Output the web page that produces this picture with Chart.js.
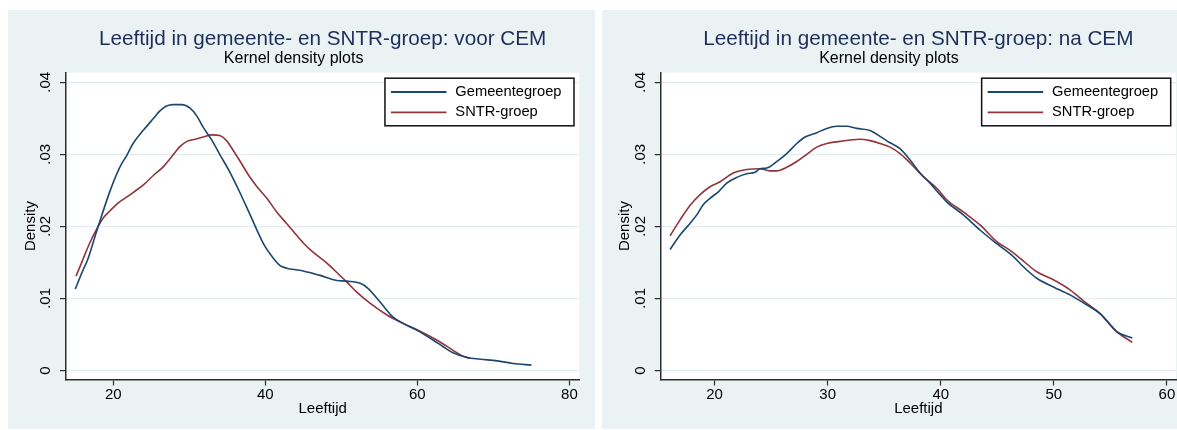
<!DOCTYPE html>
<html>
<head>
<meta charset="utf-8">
<script src="https://cdn.jsdelivr.net/npm/chart.js@4.4.1/dist/chart.umd.min.js"></script>
<style>
  html, body { margin: 0; padding: 0; background: #ffffff; width: 1177px; height: 430px; overflow: hidden; }
  canvas { position: absolute; display: block; }
  #voor { left: 8px; top: 10px; }
  #na { left: 602px; top: 10px; }
</style>
</head>
<body>
<canvas id="voor" width="587" height="419"></canvas>
<canvas id="na" width="588" height="419"></canvas>
<script>
// ---------- text ----------
const TITLE_VOOR = 'Leeftijd in gemeente- en SNTR-groep: voor CEM';
const TITLE_NA = 'Leeftijd in gemeente- en SNTR-groep: na CEM';
const SUBTITLE = 'Kernel density plots';
const SERIES = ['Gemeentegroep', 'SNTR-groep'];
const X_TITLE = 'Leeftijd';
const Y_TITLE = 'Density';

// ---------- tick values / labels ----------
const Y_TICKS = [0, 0.01, 0.02, 0.03, 0.04];
const Y_TICK_LABELS = ['0', '.01', '.02', '.03', '.04'];
const X_TICKS_VOOR = [20, 40, 60, 80];
const X_TICKS_NA = [20, 30, 40, 50, 60];

// ---------- data: voor CEM ----------
const voorAgeGemeente = [15.0, 16.0, 16.6, 17.8, 19.6, 20.9, 21.8, 22.6, 24.0, 25.3, 26.1, 27.0, 27.9, 29.0, 30.1, 31.0, 31.8, 33.0, 34.0, 35.4, 36.7, 38.0, 39.8, 40.9, 41.9, 42.8, 44.5, 46.5, 47.2, 49.4, 50.7, 52.5, 53.5, 55.1, 56.8, 58.2, 59.9, 62.1, 63.4, 64.7, 66.5, 68.3, 70.5, 72.6, 75.0];
const voorDensGemeente = [0.0113, 0.0139, 0.0153, 0.0193, 0.0250, 0.0283, 0.0299, 0.0315, 0.0334, 0.0350, 0.0360, 0.0367, 0.0369, 0.0369, 0.0364, 0.0353, 0.0338, 0.0319, 0.0300, 0.0274, 0.0246, 0.0216, 0.0175, 0.0158, 0.0146, 0.0142, 0.0139, 0.0134, 0.0132, 0.0125, 0.0124, 0.0121, 0.0114, 0.0095, 0.0074, 0.0065, 0.0056, 0.0042, 0.0033, 0.00245, 0.0018, 0.00157, 0.00134, 0.00097, 0.00074];
const voorAgeSntr = [15.1, 16.0, 16.9, 17.8, 18.7, 19.6, 20.7, 21.8, 22.6, 24.0, 25.3, 26.6, 27.7, 28.8, 29.7, 30.8, 31.8, 33.0, 34.0, 34.9, 35.8, 36.7, 37.8, 38.9, 40.2, 41.5, 42.8, 43.7, 45.0, 46.2, 48.1, 49.8, 50.7, 52.0, 53.8, 56.0, 58.2, 59.9, 62.6, 64.7, 65.8, 66.9];
const voorDensSntr = [0.0131, 0.0154, 0.0177, 0.0196, 0.0212, 0.0222, 0.0233, 0.0241, 0.0247, 0.0258, 0.0271, 0.0283, 0.0297, 0.0311, 0.0318, 0.0321, 0.0324, 0.0327, 0.0326, 0.0319, 0.0305, 0.0290, 0.0271, 0.0255, 0.0239, 0.0220, 0.0204, 0.0193, 0.0177, 0.0165, 0.0149, 0.0132, 0.0123, 0.0109, 0.0093, 0.0077, 0.0065, 0.0057, 0.0042, 0.0028, 0.0021, 0.0017];

// ---------- data: na CEM ----------
const naAgeGemeente = [16.07, 16.95, 17.83, 18.43, 19.0, 19.6, 20.34, 21.08, 21.96, 22.85, 23.58, 24.02, 24.62, 25.5, 26.38, 27.27, 28.0, 29.04, 29.92, 30.8, 31.69, 32.57, 33.75, 34.63, 35.52, 36.4, 37.29, 38.17, 39.05, 40.53, 42.0, 43.47, 44.95, 46.42, 47.3, 48.49, 49.96, 51.43, 52.91, 54.09, 55.56, 56.94];
const naDensGemeente = [0.0168, 0.0188, 0.0204, 0.0216, 0.0230, 0.0239, 0.0248, 0.0260, 0.0268, 0.0273, 0.0275, 0.0280, 0.0281, 0.0290, 0.0301, 0.0315, 0.0324, 0.0330, 0.0336, 0.0339, 0.0339, 0.0336, 0.0333, 0.0325, 0.0316, 0.0308, 0.0292, 0.0274, 0.0260, 0.0234, 0.0216, 0.0195, 0.0176, 0.0158, 0.0144, 0.0128, 0.0116, 0.0105, 0.0091, 0.0079, 0.0054, 0.0045];
const naAgeSntr = [16.07, 16.95, 17.83, 18.72, 19.6, 20.49, 21.66, 22.85, 24.02, 24.9, 25.5, 26.38, 27.27, 28.15, 29.04, 29.92, 31.1, 31.98, 32.87, 33.75, 34.63, 35.52, 36.4, 37.29, 38.46, 39.65, 40.53, 42.0, 43.47, 44.95, 46.1, 47.0, 48.49, 49.96, 51.43, 52.91, 54.09, 55.56, 56.94];
const naDensSntr = [0.0187, 0.0209, 0.0229, 0.0244, 0.0255, 0.0262, 0.0274, 0.0279, 0.0280, 0.0277, 0.0277, 0.0282, 0.0290, 0.0300, 0.0310, 0.0315, 0.0318, 0.0320, 0.0321, 0.0319, 0.0315, 0.0310, 0.0301, 0.0288, 0.0269, 0.0253, 0.0237, 0.0220, 0.0202, 0.0179, 0.0167, 0.0156, 0.0137, 0.0126, 0.0112, 0.0093, 0.0079, 0.0054, 0.0039];

// ---------- style ----------
const FAMILY = "'Liberation Sans', Arial, Helvetica, sans-serif";
const PANEL = '#eaf2f3';
const GRID = '#e3edef';
const AXIS = '#2e2e2e';
const BLUE = '#1a476f';
const RED = '#90353b';
const TITLE_COLOR = '#1e2d5a';

function zip(xs, ys) { return xs.map((x, i) => ({ x: x, y: ys[i] })); }

const panelBg = {
  id: 'panelBg',
  beforeDraw(chart) {
    const { ctx, chartArea: a } = chart;
    ctx.save();
    ctx.fillStyle = PANEL;
    ctx.fillRect(0, 0, chart.width, chart.height);
    ctx.fillStyle = '#ffffff';
    ctx.fillRect(a.left, a.top, a.right - a.left, a.bottom - a.top);
    ctx.restore();
  }
};

// centre the main title over the plot region (subtitle stays centred on the panel)
const titleOverPlot = {
  id: 'titleOverPlot',
  afterLayout(chart) {
    if (chart.titleBlock) {
      chart.titleBlock.left = chart.chartArea.left;
      chart.titleBlock.right = chart.chartArea.right;
    }
  }
};

const boxLegend = {
  id: 'boxLegend',
  afterDatasetsDraw(chart) {
    const { ctx, chartArea: a } = chart;
    const ds = chart.data.datasets;
    ctx.save();
    ctx.font = '14.7px ' + FAMILY;
    const tw = Math.max.apply(null, ds.map(d => ctx.measureText(d.label).width));
    const w = 70.4 + tw + 12.5;
    const h = 47.6;
    const x = a.right - 5.3 - w;
    const y = a.top + 5.5;
    ctx.fillStyle = '#ffffff';
    ctx.fillRect(x, y, w, h);
    ctx.strokeStyle = '#111111';
    ctx.lineWidth = 1.5;
    ctx.strokeRect(x, y, w, h);
    ds.forEach((d, i) => {
      const ly = y + 13.8 + i * 20.3;
      ctx.strokeStyle = d.borderColor;
      ctx.lineWidth = 1.8;
      ctx.beginPath();
      ctx.moveTo(x + 6, ly);
      ctx.lineTo(x + 61.5, ly);
      ctx.stroke();
      ctx.fillStyle = '#000000';
      ctx.textAlign = 'left';
      ctx.textBaseline = 'middle';
      ctx.fillText(d.label, x + 70.4, ly);
    });
    ctx.restore();
  }
};

function makeChart(id, cfg) {
  return new Chart(document.getElementById(id), {
    type: 'line',
    data: {
      datasets: [
        { label: SERIES[0], data: zip(cfg.ageA, cfg.densA), borderColor: BLUE, borderWidth: 1.6,
          pointRadius: 0, fill: false, cubicInterpolationMode: 'monotone' },
        { label: SERIES[1], data: zip(cfg.ageB, cfg.densB), borderColor: RED, borderWidth: 1.6,
          pointRadius: 0, fill: false, cubicInterpolationMode: 'monotone' }
      ]
    },
    options: {
      responsive: false,
      animation: false,
      events: [],
      layout: { padding: { left: 0, right: cfg.padRight, top: 0, bottom: 0 } },
      plugins: {
        legend: { display: false },
        tooltip: { enabled: false },
        title: {
          display: true, text: cfg.title, color: TITLE_COLOR,
          font: { family: FAMILY, size: 20.7, weight: 'normal', lineHeight: 1.0 },
          padding: { top: 18.6, bottom: 0 }
        },
        subtitle: {
          display: true, text: SUBTITLE, color: '#000000',
          font: { family: FAMILY, size: 16, weight: 'normal', lineHeight: 1.0 },
          padding: { top: 1.2, bottom: 6.2 }
        }
      },
      scales: {
        x: {
          type: 'linear',
          min: cfg.xMin, max: cfg.xMax,
          afterBuildTicks: s => { s.ticks = cfg.xTicks.map(v => ({ value: v })); },
          afterFit: s => { s.height = 49.5; },
          ticks: { callback: v => String(v), color: '#000000', padding: 0, maxRotation: 0, minRotation: 0, autoSkip: false,
                   font: { family: FAMILY, size: 15 } },
          grid: { drawOnChartArea: false, drawTicks: true, tickLength: 6, tickColor: AXIS, tickWidth: 1.2 },
          border: { display: true, color: AXIS, width: 1.5 },
          title: { display: true, text: X_TITLE, color: '#000000', font: { family: FAMILY, size: 15 },
                   padding: { top: 0, bottom: 11.3 } }
        },
        y: {
          min: -0.00125, max: 0.04133,
          afterBuildTicks: s => { s.ticks = Y_TICKS.map(v => ({ value: v })); },
          afterFit: s => { s.width = cfg.yWidth; },
          ticks: { callback: (v, i) => Y_TICK_LABELS[i], color: '#000000', padding: 3.3, minRotation: 90, maxRotation: 90,
                   crossAlign: 'center', autoSkip: false, font: { family: FAMILY, size: 15 } },
          grid: { color: GRID, lineWidth: 1.2, drawTicks: true, tickLength: 6, tickColor: AXIS, tickWidth: 1.2 },
          border: { display: true, color: AXIS, width: 1.5 },
          title: { display: true, text: Y_TITLE, color: '#000000', font: { family: FAMILY, size: 15 },
                   padding: { top: 14, bottom: 0 } }
        }
      }
    },
    plugins: [panelBg, titleOverPlot, boxLegend]
  });
}

makeChart('voor', {
  title: TITLE_VOOR,
  ageA: voorAgeGemeente, densA: voorDensGemeente,
  ageB: voorAgeSntr, densB: voorDensSntr,
  xMin: 13.78, xMax: 81.3, xTicks: X_TICKS_VOOR,
  yWidth: 58, padRight: 15.7
});

makeChart('na', {
  title: TITLE_NA,
  ageA: naAgeGemeente, densA: naDensGemeente,
  ageB: naAgeSntr, densB: naDensSntr,
  xMin: 15.24, xMax: 60.8, xTicks: X_TICKS_NA,
  yWidth: 58.7, padRight: 14
});
</script>
</body>
</html>
